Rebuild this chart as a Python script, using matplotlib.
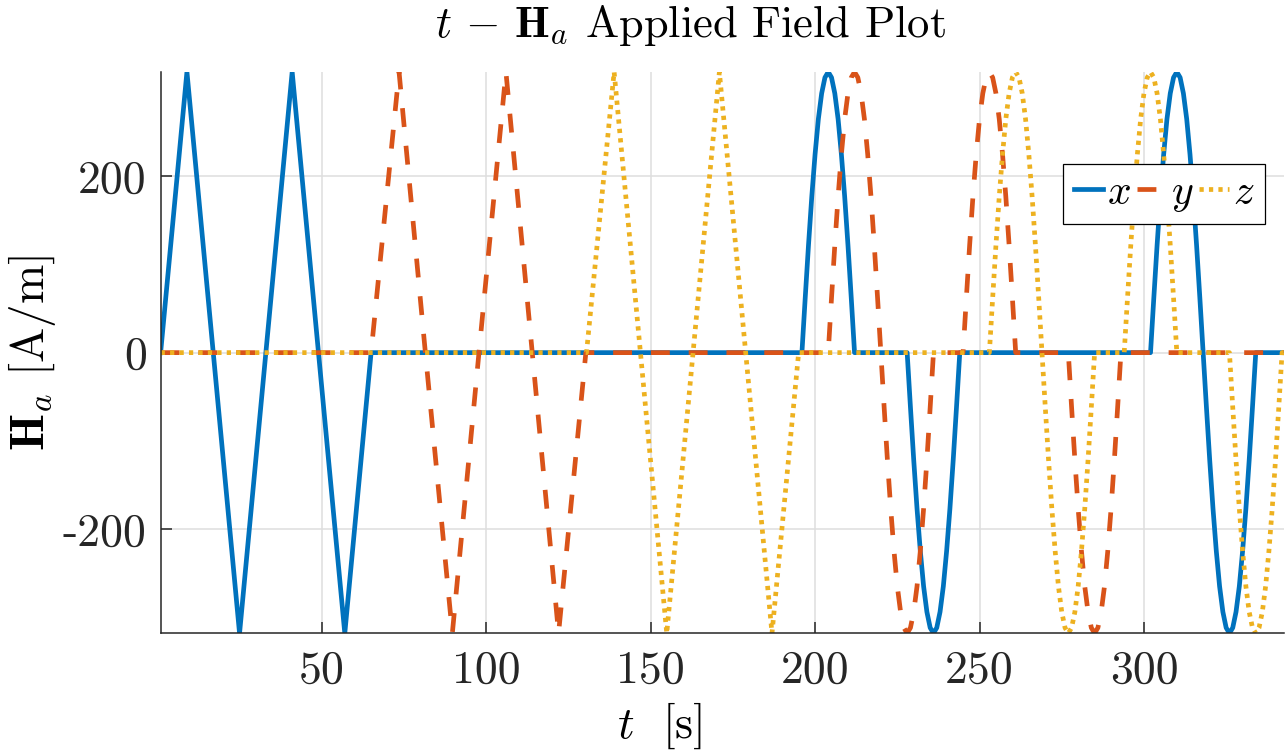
import matplotlib
matplotlib.use('Agg')
import matplotlib.pyplot as plt

plt.rcParams['mathtext.fontset'] = 'cm'
plt.rcParams['font.family'] = ['cmr10', 'DejaVu Serif']
plt.rcParams['axes.unicode_minus'] = False

# amplitude of the applied field (peaks touch the axis limits)
H_MAX = 318.3

# first part: triangular sweeps, knots (t, value) per component
x_tri_t = [1, 9, 17, 25, 33, 41, 49, 57, 65]
y_tri_t = [65, 73.5, 81.5, 89.7, 97.8, 106, 114, 122, 130.3]
z_tri_t = [130.5, 138.9, 146.9, 154.9, 162.9, 170.9, 178.9, 186.9, 195]
tri_vals = [0, 318.3, 0, -318.3, 0, 318.3, 0, -318.3, 0]

# second part: half-wave pulses, shape read at 1 s steps over 16 s
half_wave = [0, 62, 122, 177, 225, 265, 294, 312, 318.3,
             312, 294, 265, 225, 177, 122, 62, 0]
x_pulses = [(196, 1), (228, -1), (302, 1), (318, -1)]
y_pulses = [(204, 1), (220, -1), (245, 1), (277, -1)]
z_pulses = [(253, 1), (269, -1), (294, 1), (326, -1)]

t_start, t_end = 1, 342.5

xticks = [50, 100, 150, 200, 250, 300]
yticks = [-200, 0, 200]
ytick_labels = ['-200', '0', '200']


def build(tri_t, pulses):
    pts = [(t_start, 0.0)]
    pts += list(zip(tri_t, tri_vals))
    for t0, s in pulses:
        for k, v in enumerate(half_wave):
            pts.append((t0 + k, s * v))
    pts.append((t_end, 0.0))
    pts.sort(key=lambda p: p[0])
    return [p[0] for p in pts], [p[1] for p in pts]


tx, hx = build(x_tri_t, x_pulses)
ty, hy = build(y_tri_t, y_pulses)
tz, hz = build(z_tri_t, z_pulses)

fig = plt.figure(figsize=(12.85, 7.56), dpi=100)
ax = fig.add_axes([0.125, 0.1623, 0.874, 0.7425])

lw = 3.4
ax.plot(tx, hx, color='#0072BD', lw=lw, label='$x$')
ax.plot(ty, hy, color='#D95319', lw=lw, dashes=(4, 4), label='$y$')
ax.plot(tz, hz, color='#EDB120', lw=lw, dashes=(0.9, 1.1), label='$z$',
        dash_capstyle='butt')

ax.set_xlim(t_start, t_end)
ax.set_ylim(-H_MAX, H_MAX)
ax.set_xticks(xticks)
ax.set_xticklabels([str(v) for v in xticks])
ax.set_yticks(yticks)
ax.set_yticklabels(ytick_labels)

ax.grid(True, color='#dedede', lw=1.1)
ax.set_axisbelow(True)
for side in ['top', 'right']:
    ax.spines[side].set_visible(False)
for side in ['left', 'bottom']:
    ax.spines[side].set_color('#262626')
    ax.spines[side].set_linewidth(1.1)
ax.tick_params(direction='in', length=8, width=1.1, colors='#262626',
               labelsize=33, pad=10)
ax.tick_params(axis='x', pad=12)
for lab in ax.get_xticklabels() + ax.get_yticklabels():
    lab.set_color('#262626')

ax.set_xlabel(r'$t\ $ [s]', fontsize=33, va='top')
ax.xaxis.set_label_coords(0.444, -0.12)
ax.set_ylabel(r'$\mathbf{H}_a$ [A/m]', fontsize=34)
ax.yaxis.set_label_coords(-0.0915, 0.5)

ax.text(0.472, 1.0624, r'$t\, -\, \mathbf{H}_a$ Applied Field Plot',
        transform=ax.transAxes, ha='center', va='baseline', fontsize=32)

leg = ax.legend(ncol=3, loc='upper right', bbox_to_anchor=(0.983, 0.836),
                fontsize=30, borderpad=0.25, handlelength=0.7,
                handletextpad=0.1, columnspacing=0.15, borderaxespad=0,
                fancybox=False, framealpha=1, edgecolor='black')
leg.get_frame().set_linewidth(0.9)

fig.savefig('out.png', dpi=100)
